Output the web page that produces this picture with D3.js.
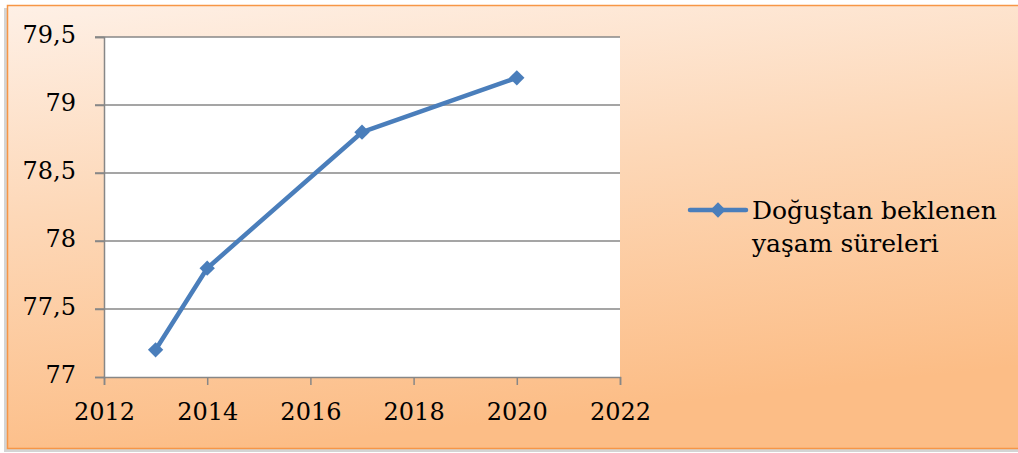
<!DOCTYPE html>
<html>
<head>
<meta charset="utf-8">
<script src="https://cdn.jsdelivr.net/npm/d3@7"></script>
<style>
	body { margin: 0; background: #fff; }
	svg { display: block; }
	text { font-family: 'Palatino Linotype', 'Book Antiqua', 'DejaVu Serif', serif; fill: #000; }
</style>
</head>
<body>
<div id="chart"><svg></svg></div>
<script>
// values
const years = [2013, 2014, 2017, 2020];
const lifeExp = [77.2, 77.8, 78.8, 79.2];
const xTicks = [2012, 2014, 2016, 2018, 2020, 2022];
const yTicks = [77, 77.5, 78, 78.5, 79, 79.5];
const seriesName = ['Doğuştan beklenen', 'yaşam süreleri'];

const W = 1018;
const H = 453;
const plot = { left: 104, right: 620, top: 37, bottom: 377 };
const blue = '#4a7ebb';
const grid = '#878787';

const $svg = d3.select('#chart svg').attr('width', W).attr('height', H);

const defs = $svg.append('defs');
const grad = defs.append('linearGradient')
	.attr('id', 'bg')
	.attr('x1', 0).attr('y1', 0).attr('x2', 0.25).attr('y2', 1);
grad.append('stop').attr('offset', '0%').attr('stop-color', '#fef0e6');
grad.append('stop').attr('offset', '45%').attr('stop-color', '#fdd8b8');
grad.append('stop').attr('offset', '100%').attr('stop-color', '#fcbd86');

// shadow + frame
$svg.append('rect')
	.attr('x', 4).attr('y', 8).attr('width', W).attr('height', 444)
	.attr('fill', '#b8b8b8').attr('opacity', 0.6);
$svg.append('rect')
	.attr('x', 7.5).attr('y', 5.5).attr('width', W).attr('height', 443)
	.attr('fill', 'url(#bg)')
	.attr('stroke', '#f79646').attr('stroke-width', 1.5);

// plot area
$svg.append('rect')
	.attr('x', plot.left).attr('y', plot.top)
	.attr('width', plot.right - plot.left).attr('height', plot.bottom - plot.top)
	.attr('fill', '#fff');

const x = d3.scaleLinear().domain([2012, 2022]).range([plot.left, plot.right]);
const y = d3.scaleLinear().domain([77, 79.5]).range([plot.bottom, plot.top]);
const fmt = d => String(d).replace('.', ',');

// gridlines
$svg.append('g')
	.selectAll('line')
	.data(yTicks.slice(1))
	.join('line')
	.attr('x1', plot.left - 9).attr('x2', plot.right)
	.attr('y1', d => y(d)).attr('y2', d => y(d))
	.attr('stroke', grid).attr('stroke-width', 1.5);

// y axis
const yAxis = $svg.append('g')
	.attr('transform', `translate(${plot.left},0)`)
	.call(d3.axisLeft(y).tickValues(yTicks).tickFormat(fmt).tickSize(9).tickPadding(19));
yAxis.select('.domain').attr('stroke', grid).attr('stroke-width', 1.5);
yAxis.selectAll('.tick line').attr('stroke', grid).attr('stroke-width', 1.5);
yAxis.selectAll('text').attr('font-size', 24).attr('fill', '#000').attr('dy', '0.22em');

// x axis
const xAxis = $svg.append('g')
	.attr('transform', `translate(0,${plot.bottom})`)
	.call(d3.axisBottom(x).tickValues(xTicks).tickFormat(d3.format('d')).tickSize(8).tickPadding(18));
xAxis.select('.domain').attr('stroke', grid).attr('stroke-width', 1.5);
xAxis.selectAll('.tick line').attr('stroke', grid).attr('stroke-width', 1.5);
xAxis.selectAll('text').attr('font-size', 24).attr('fill', '#000');
$svg.selectAll('.tick text').style('font-family', "'DejaVu Serif', serif");

// series
const pts = years.map((yr, i) => [yr, lifeExp[i]]);
$svg.append('path')
	.datum(pts)
	.attr('d', d3.line().x(d => x(d[0])).y(d => y(d[1])))
	.attr('fill', 'none')
	.attr('stroke', blue)
	.attr('stroke-width', 4.5)
	.attr('stroke-linejoin', 'round');

const diamond = d3.symbol().type(d3.symbolDiamond2).size(150);
$svg.append('g')
	.selectAll('path')
	.data(pts)
	.join('path')
	.attr('transform', d => `translate(${x(d[0])},${y(d[1])})`)
	.attr('d', diamond)
	.attr('fill', blue);

// legend
const lg = $svg.append('g').attr('transform', 'translate(690,210)');
lg.append('line')
	.attr('x1', 0).attr('x2', 56)
	.attr('stroke', blue).attr('stroke-width', 4.5).attr('stroke-linecap', 'round');
lg.append('path').attr('transform', 'translate(28,0)').attr('d', diamond).attr('fill', blue);
lg.selectAll('text')
	.data(seriesName)
	.join('text')
	.attr('x', 62)
	.attr('y', (d, i) => 9 + i * 33)
	.attr('font-size', 25)
	.style('font-family', "'DejaVu Serif', serif")
	.text(d => d);
</script>
</body>
</html>
